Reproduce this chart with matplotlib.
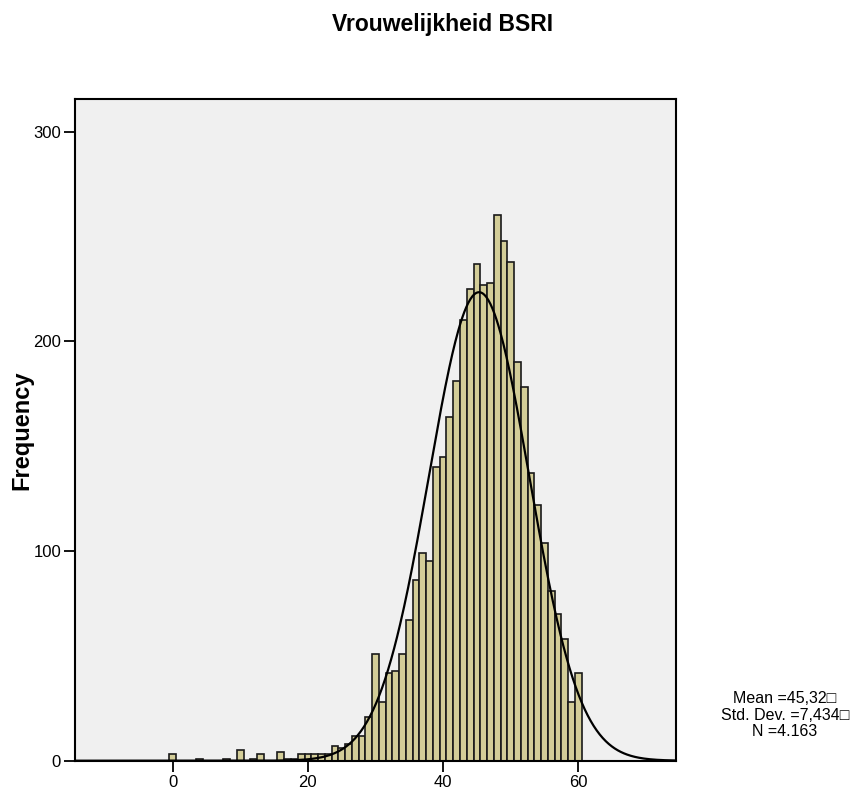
import matplotlib
matplotlib.use('Agg')
import matplotlib.pyplot as plt
import numpy as np

# histogram of the score (bin centres and counts)
scores = [0, 4, 8, 10, 12, 13, 16, 17, 18, 19, 20, 21, 22, 23, 24, 25, 26, 27, 28, 29, 30,
          31, 32, 33, 34, 35, 36, 37, 38, 39, 40,
          41, 42, 43, 44, 45, 46, 47, 48, 49, 50,
          51, 52, 53, 54, 55, 56, 57, 58, 59, 60]
counts = [3, 1, 1, 5, 1, 3, 4, 1, 1, 3, 3, 3, 3, 3, 7, 6, 8, 12, 12, 21, 51,
          28, 42, 43, 51, 67, 86, 99, 95, 140, 145,
          164, 181, 210, 225, 237, 227, 228, 260, 248, 238,
          190, 178, 137, 122, 104, 81, 70, 58, 28, 42]

mean = 45.32
std_dev = 7.434
n_total = 4163

x_ticks = [0, 20, 40, 60]
y_ticks = [0, 100, 200, 300]

title = "Vrouwelijkheid BSRI"
y_label = "Frequency"
stats_lines = ["Mean =45,32\u25a1", "Std. Dev. =7,434\u25a1", "N =4.163"]

plt.rcParams['font.family'] = ['Liberation Sans', 'DejaVu Sans']

fig = plt.figure(figsize=(8.65, 7.96), dpi=100)
ax = fig.add_axes([75 / 865, 35.3 / 796, (676 - 75) / 865, (760.7 - 99.3) / 796])
ax.set_facecolor('#f0f0f0')

ax.bar(scores, counts, width=1.0, align='center', color='#d3cd98',
       edgecolor='#1a1a1a', linewidth=1.2, zorder=2)

# fitted normal curve
xs = np.linspace(-14.45, 74.45, 600)
ys = n_total * 1.0 / (std_dev * np.sqrt(2 * np.pi)) * np.exp(-0.5 * ((xs - mean) / std_dev) ** 2)
ax.plot(xs, ys, color='black', linewidth=1.6, zorder=3)

ax.set_xlim(-14.45, 74.45)
ax.set_ylim(0, 315.4)
ax.set_xticks(x_ticks)
ax.set_yticks(y_ticks)
ax.tick_params(axis='both', direction='out', length=8, width=1.3, labelsize=12, pad=2)
for side in ['left', 'right', 'top', 'bottom']:
    ax.spines[side].set_linewidth(1.5)
    ax.spines[side].set_color('black')

fig.text(22 / 865, 1 - 430 / 796, y_label, rotation=90, ha='center', va='center',
         fontsize=17, fontweight='bold')
fig.text(443 / 865, 1 - 25 / 796, title, ha='center', va='center', fontsize=16.5, fontweight='bold')

fig.text(785 / 865, 1 - 715 / 796, "\n".join(stats_lines), ha='center', va='center',
         fontsize=11.5, linespacing=1.1)

fig.savefig('out.png', dpi=100)
